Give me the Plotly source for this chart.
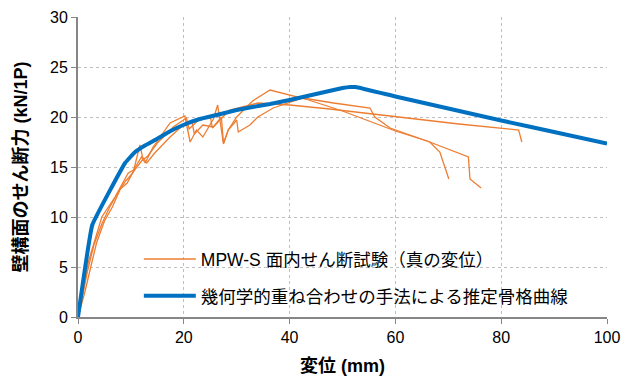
import plotly.graph_objects as go

# Test specimens (MPW-S in-plane shear test, true displacement)
s1_x = [0, 1, 2, 3.2, 4.5, 7, 8.9, 9.5, 10.5, 12, 12.7, 14.2, 17.4, 20.2, 21.2, 22.4, 23.6, 25.6, 26.4, 27.5, 28.4, 30, 33, 36.3, 43, 50, 60, 66, 73.8, 74.1, 76.2]
s1_y = [0, 2.6, 5.6, 7.7, 10.0, 12.0, 13.9, 14.4, 14.7, 16.0, 15.4, 17.0, 19.4, 20.1, 17.5, 18.7, 18.0, 19.8, 21.2, 17.3, 18.7, 20.0, 21.6, 22.7, 21.8, 20.6, 18.6, 17.6, 16.0, 13.8, 12.9]

s2_x = [0, 1.3, 2.5, 3.5, 5, 6.5, 8, 9.3, 10.5, 11.7, 12.2, 13, 14.5, 17.4, 19.9, 21.5, 22.0, 23.6, 25.6, 27.1, 27.5, 28.4, 30, 30.3, 32.5, 34, 36.9, 42.5, 48.3, 55.2, 56.1, 59, 66.5, 68.4, 70.1]
s2_y = [0, 2.5, 5.2, 7.4, 9.6, 11.0, 12.8, 13.4, 14.6, 17.2, 16.0, 15.4, 16.4, 18.0, 19.2, 19.6, 18.3, 19.2, 19.0, 20.0, 17.4, 18.7, 19.7, 18.5, 19.2, 20.0, 20.9, 21.9, 21.4, 20.9, 20.0, 18.9, 17.5, 16.5, 13.8]

s3_x = [0, 0.8, 1.8, 3, 4.5, 6, 7.5, 9, 10.2, 11, 12, 13.2, 15, 18, 20.5, 21.0, 23, 25, 25.4, 27, 28.7, 34, 40, 47.6, 60, 72, 83.3, 83.9]
s3_y = [0, 2.0, 4.6, 7.2, 9.3, 11.0, 12.4, 13.6, 14.3, 14.9, 15.6, 16.1, 17.4, 19.0, 19.9, 18.8, 19.8, 20.1, 18.9, 19.8, 20.7, 21.4, 21.2, 20.8, 20.0, 19.3, 18.7, 17.5]

# Estimated skeleton curve (geometric superposition method)
est_x = [0, 2.7, 8.9, 10.8, 12.5, 14.9, 17.5, 19.9, 23, 26.2, 30, 33, 36.3, 40, 45, 50, 51.5, 52.5, 60, 70, 80, 90, 100]
est_y = [0, 9.2, 15.4, 16.5, 17.1, 17.8, 18.6, 19.2, 19.8, 20.2, 20.7, 21.0, 21.3, 21.7, 22.3, 22.9, 23.0, 23.0, 22.05, 20.85, 19.65, 18.5, 17.35]

x_ticks = [0, 20, 40, 60, 80, 100]
y_ticks = [0, 5, 10, 15, 20, 25, 30]

name_test = "MPW-S 面内せん断試験（真の変位）"
name_est = "幾何学的重ね合わせの手法による推定骨格曲線"
x_title = "変位 (mm)"
y_title = "壁構面のせん断力 (kN/1P)"

FONT = "Arial, 'Liberation Sans', 'Noto Sans CJK JP', sans-serif"
ORANGE = "#ED7D31"
BLUE = "#0070C0"

test_x = s1_x + [None] + s2_x + [None] + s3_x
test_y = s1_y + [None] + s2_y + [None] + s3_y

fig = go.Figure()
fig.add_trace(go.Scatter(x=test_x, y=test_y, mode="lines", name=name_test,
                         line=dict(color=ORANGE, width=1.3), legendgroup="a",
                         connectgaps=False))
fig.add_trace(go.Scatter(x=est_x, y=est_y, mode="lines", name=name_est,
                         line=dict(color=BLUE, width=4, shape="spline", smoothing=0.25),
                         legendgroup="b"))

axis_common = dict(
    showline=True, linecolor="#868686", linewidth=2,
    ticks="outside", tickcolor="#868686", ticklen=5, tickwidth=1,
    showgrid=True, gridcolor="#BFBFBF", griddash="dot", gridwidth=1,
    zeroline=False, automargin=False,
    tickfont=dict(family=FONT, size=16, color="#000000"),
)

fig.update_xaxes(range=[0, 100], tickvals=x_ticks, **axis_common,
                 title=dict(text="<b>" + x_title + "</b>", font=dict(family=FONT, size=18, color="#000000"), standoff=16))
fig.update_yaxes(range=[0, 30], tickvals=y_ticks, **axis_common,
                 title=dict(text="<b>" + y_title + "</b>", font=dict(family=FONT, size=18, color="#000000"), standoff=18))

# page body has an 8px margin, so the figure is sized to the visible window
fig.update_layout(
    width=626, height=368,
    margin=dict(l=70, r=27, t=9, b=59, autoexpand=False),
    plot_bgcolor="white", paper_bgcolor="white",
    showlegend=True,
    legend=dict(x=0.115, y=0.253, xanchor="left", yanchor="top",
                bgcolor="rgba(0,0,0,0)", traceorder="grouped", tracegroupgap=11,
                itemwidth=52,
                font=dict(family=FONT, size=17.5, color="#000000")),
)

fig.write_html("out.html")
